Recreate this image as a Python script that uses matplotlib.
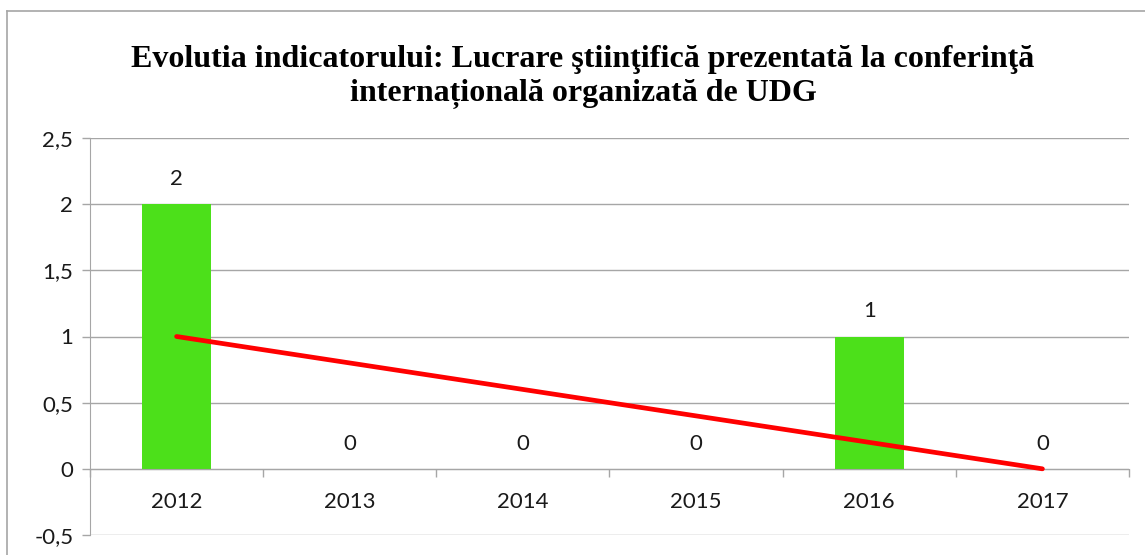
import numpy as np
import matplotlib.pyplot as plt
from matplotlib.lines import Line2D
from matplotlib.ticker import FuncFormatter, FixedLocator

# Data
years = ["2012", "2013", "2014", "2015", "2016", "2017"]
values = [2, 0, 0, 0, 1, 0]
title = ("Evolutia indicatorului: Lucrare ştiinţifică prezentată la conferinţă\n"
         "internaţională organizată de UDG").replace("naţ", "na\u021b")

W, H = 1145, 555
fig = plt.figure(figsize=(W / 100, H / 100), dpi=100, facecolor='white')
ax = fig.add_axes([90 / W, 20 / H, (1129 - 90) / W, (535 - 138) / H])

x = np.arange(1, len(years) + 1)
ax.bar(x, values, width=0.4, color='#4ce01a', zorder=2)

# linear trendline
k, b = np.polyfit(x, values, 1)
ax.plot(x, k * x + b, color='#ff0000', lw=3.4, solid_capstyle='round', zorder=3)

for xi, v in zip(x, values):
    ax.annotate(str(v), (xi, v), xytext=(0, 11), textcoords='offset points',
                ha='center', va='bottom', fontsize=16, family='Lato', color='#1a1a1a')

ax.set_xlim(0.5, 6.5)
ax.set_ylim(-0.5, 2.5)
ax.set_yticks(np.arange(-0.5, 2.51, 0.5))
ax.yaxis.set_major_formatter(FuncFormatter(
    lambda v, p: ('%g' % v).replace('.', ',')))
ax.yaxis.grid(True, color='#a6a6a6', lw=1)
ax.set_axisbelow(True)

ax.spines['bottom'].set_position(('data', 0))
for s in ['top', 'right']:
    ax.spines[s].set_visible(False)
ax.spines['left'].set_color('#a6a6a6')
ax.spines['bottom'].set_color('#a6a6a6')

ax.set_xticks(x)
ax.set_xticklabels(years)
ax.xaxis.set_minor_locator(FixedLocator(np.arange(0.5, 6.6, 1)))
ax.tick_params(axis='x', which='major', length=0, pad=17)
ax.tick_params(axis='x', which='minor', length=6, color='#a6a6a6', width=1)
ax.tick_params(axis='y', length=6, color='#a6a6a6', width=1, pad=6)
for lab in ax.get_xticklabels() + ax.get_yticklabels():
    lab.set_family('Lato')
    lab.set_fontsize(16)
    lab.set_color('#1a1a1a')

fig.text(583 / W, 1 - 77 / H, title, ha='center', va='center',
         family='Liberation Serif', fontweight='bold', fontsize=23,
         linespacing=1.22)

# chart border
fig.add_artist(Line2D([7 / W, 7 / W], [0, 1 - 11 / H], color='#a6a6a6', lw=1.2,
                      transform=fig.transFigure))
fig.add_artist(Line2D([7 / W, 1], [1 - 11 / H, 1 - 11 / H], color='#a6a6a6', lw=1.2,
                      transform=fig.transFigure))

fig.savefig('out.png', dpi=100)
